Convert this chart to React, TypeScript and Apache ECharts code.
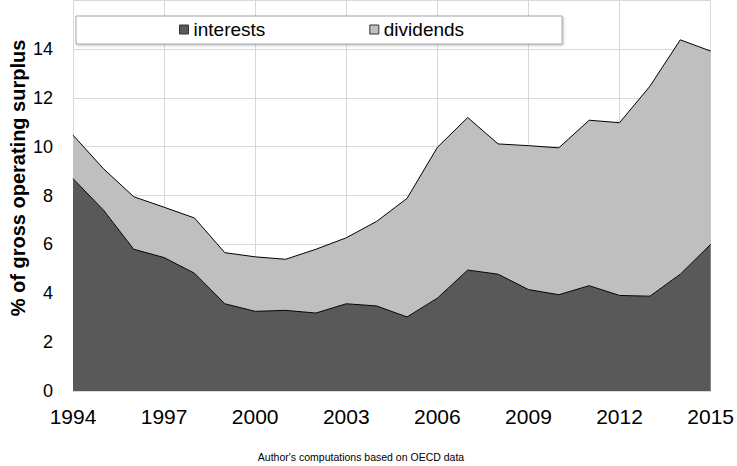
import React, { useEffect, useRef } from "react";
import * as echarts from "echarts";

const years = [
  "1994", "1995", "1996", "1997", "1998", "1999", "2000", "2001", "2002", "2003", "2004",
  "2005", "2006", "2007", "2008", "2009", "2010", "2011", "2012", "2013", "2014", "2015",
];
const interests = [
  8.69, 7.41, 5.8, 5.46, 4.82, 3.57, 3.26, 3.3, 3.19, 3.57, 3.48,
  3.03, 3.8, 4.95, 4.78, 4.15, 3.94, 4.31, 3.91, 3.88, 4.78, 6.0,
];
const totals = [
  10.47, 9.1, 7.95, 7.52, 7.08, 5.66, 5.49, 5.39, 5.8, 6.27, 6.94,
  7.88, 9.97, 11.19, 10.11, 10.04, 9.95, 11.08, 10.98, 12.47, 14.37, 13.91,
];
const dividends = totals.map((t, i) => +(t - interests[i]).toFixed(2));

const yAxisTitle = "% of gross operating surplus";
const footnote = "Author's computations based on OECD data";

const FONT = "'Liberation Sans', Arial, sans-serif";

export default function App() {
  const ref = useRef<HTMLDivElement>(null);
  useEffect(() => {
    document.body.style.margin = "0";
    const chart = echarts.init(ref.current!, null, { renderer: "svg" });
    chart.setOption({
      animation: false,
      backgroundColor: "#fff",
      textStyle: { fontFamily: FONT },
      grid: { left: 73, right: 24, top: -7, bottom: 75, containLabel: false },
      legend: {
        left: 76,
        top: 16,
        padding: [4, 98, 5, 103],
        itemGap: 104,
        itemWidth: 9,
        itemHeight: 9,
        icon: "rect",
        backgroundColor: "#fff",
        borderColor: "#a6a6a6",
        borderWidth: 1,
        shadowColor: "rgba(0,0,0,0.25)",
        shadowBlur: 2,
        shadowOffsetX: 1,
        shadowOffsetY: 1,
        itemStyle: { borderColor: "#333", borderWidth: 1 },
        textStyle: { fontSize: 19, color: "#000", fontFamily: FONT },
        data: ["interests", "dividends"],
      },
      xAxis: {
        type: "category",
        data: years,
        boundaryGap: false,
        axisTick: { show: false },
        axisLine: { lineStyle: { color: "#d9d9d9" } },
        axisLabel: { interval: 2, fontSize: 21, color: "#000", margin: 15, fontFamily: FONT },
        splitLine: { show: true, interval: 2, lineStyle: { color: "#d9d9d9" } },
      },
      yAxis: {
        type: "value",
        min: 0,
        max: 16,
        interval: 2,
        axisLine: { show: true, lineStyle: { color: "#d9d9d9" } },
        axisTick: { show: false },
        axisLabel: { fontSize: 18, color: "#000", margin: 20, showMaxLabel: false, fontFamily: FONT },
        splitLine: { lineStyle: { color: "#d9d9d9" } },
      },
      series: [
        {
          name: "interests",
          type: "line",
          stack: "total",
          data: interests,
          symbol: "none",
          itemStyle: { color: "#595959" },
          lineStyle: { color: "#000", width: 1 },
          areaStyle: { color: "#595959", opacity: 1 },
        },
        {
          name: "dividends",
          type: "line",
          stack: "total",
          data: dividends,
          symbol: "none",
          itemStyle: { color: "#bfbfbf" },
          lineStyle: { color: "#000", width: 1 },
          areaStyle: { color: "#bfbfbf", opacity: 1 },
        },
      ],
      graphic: [
        {
          type: "text",
          x: 18,
          y: 178,
          rotation: Math.PI / 2,
          style: {
            text: yAxisTitle,
            fontSize: 20,
            fontWeight: "bold",
            fill: "#000",
            fontFamily: FONT,
            textAlign: "center",
            textVerticalAlign: "middle",
          },
        },
        {
          type: "text",
          x: 361,
          y: 457,
          style: {
            text: footnote,
            fontSize: 10.5,
            fill: "#000",
            fontFamily: FONT,
            textAlign: "center",
            textVerticalAlign: "middle",
          },
        },
      ],
    });
    return () => chart.dispose();
  }, []);
  return <div ref={ref} style={{ width: 737, height: 466 }} />;
}
